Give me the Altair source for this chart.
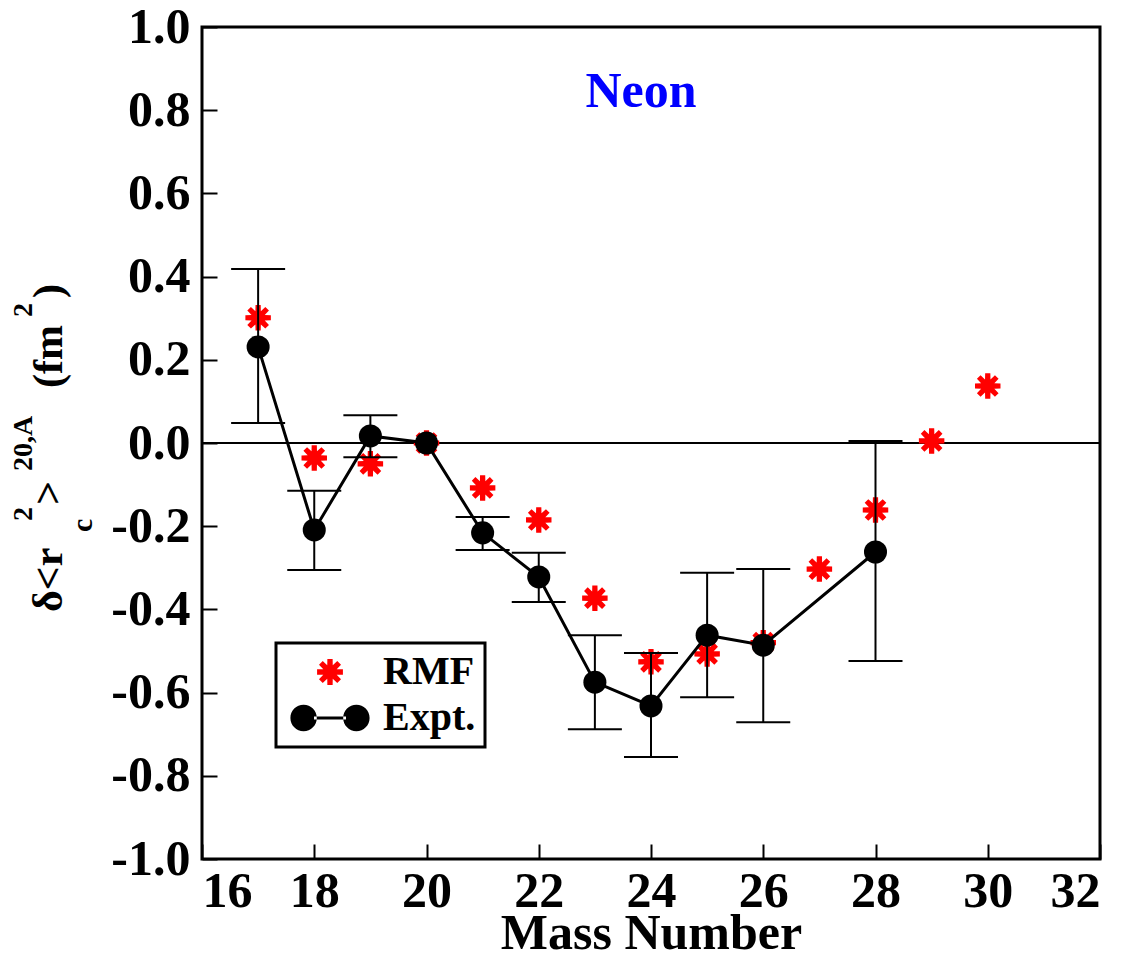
import math
import altair as alt
import pandas as pd

FONT = "Liberation Serif"

# ---- data ----
mass_rmf = [17, 18, 19, 20, 21, 22, 23, 24, 25, 26, 27, 28, 29, 30]
rmf_val = [0.301, -0.036, -0.050, 0.0, -0.108, -0.185, -0.373, -0.526, -0.507,
           -0.480, -0.303, -0.161, 0.005, 0.137]

mass_exp = [17, 18, 19, 20, 21, 22, 23, 24, 25, 26, 28]
exp_val = [0.231, -0.209, 0.017, 0.0, -0.216, -0.322, -0.575, -0.632, -0.462,
           -0.486, -0.262]

mass_err = [17, 18, 19, 21, 22, 23, 24, 25, 26, 28]
err_hi = [0.418, -0.115, 0.067, -0.178, -0.264, -0.462, -0.505, -0.312, -0.303, 0.005]
err_lo = [0.048, -0.305, -0.034, -0.257, -0.382, -0.688, -0.755, -0.611, -0.671, -0.524]

series_names = ["RMF", "Expt."]
x_ticks = [16, 18, 20, 22, 24, 26, 28, 30, 32]
y_ticks = [-1.0, -0.8, -0.6, -0.4, -0.2, 0.0, 0.2, 0.4, 0.6, 0.8, 1.0]

rmf_df = pd.DataFrame({"A": mass_rmf, "v": rmf_val})
exp_df = pd.DataFrame({"A": mass_exp, "v": exp_val})
err_df = pd.DataFrame({"A": mass_err, "hi": err_hi, "lo": err_lo})
zero_df = pd.DataFrame({"z": [0.0]})
leg_df = pd.DataFrame({"series": series_names})

W, H = 898, 832


def asterisk(r):
    pts = []
    n = 8
    for i in range(n):
        a = 2 * math.pi * i / n
        for da, rad in [(-0.2, 1.0), (0.2, 1.0), (math.pi / n, 0.55)]:
            pts.append((rad * r * math.cos(a + da), rad * r * math.sin(a + da)))
    return "M" + " L".join(f"{x:.3f},{y:.3f}" for x, y in pts) + " Z"


def circle_path(cx, r):
    return (f"M{cx - r:.3f},0 A{r:.3f},{r:.3f} 0 1,0 {cx + r:.3f},0 "
            f"A{r:.3f},{r:.3f} 0 1,0 {cx - r:.3f},0 Z")


legend_expt = (circle_path(-0.66, 0.33) + " M-0.4,-0.04 L0.4,-0.04 L0.4,0.04 L-0.4,0.04 Z "
               + circle_path(0.66, 0.33))
legend_rmf = asterisk(0.33)
star_path = asterisk(1.0)

xs = alt.Scale(domain=[16, 32], nice=False, zero=False)
ys = alt.Scale(domain=[-1, 1], nice=False, zero=False)

lab = dict(labelFont=FONT, labelFontSize=50, labelFontWeight="bold", labelColor="black")

x_main = alt.Axis(values=x_ticks, format="d", title="Mass Number", titleFont=FONT,
                  titleFontSize=50, titleFontWeight="bold", titleColor="black",
                  titlePadding=-8, ticks=False, domain=False, grid=False,
                  labelPadding=7, labelOverlap=False, **lab)
y_main = alt.Axis(values=y_ticks, title=None, ticks=False, domain=False, grid=False,
                  labelPadding=12, labelOverlap=False,
                  labelExpr="(datum.value < -0.001 ? '-' : '') + format(abs(datum.value), '.1f')",
                  **lab)
x_in = alt.Axis(orient="top", offset=-H, values=x_ticks, labels=False, ticks=True,
                tickSize=15, tickWidth=2, tickColor="black", domain=False, grid=False, title=None)
y_in = alt.Axis(orient="right", offset=-W, values=y_ticks, labels=False, ticks=True,
                tickSize=15, tickWidth=2, tickColor="black", domain=False, grid=False, title=None)

zero = alt.Chart(zero_df).mark_rule(color="black", strokeWidth=2).encode(
    y=alt.Y("z:Q", scale=ys, axis=None))

rmf = alt.Chart(rmf_df).mark_point(shape=star_path, filled=True, color="#ff0000",
                                   size=676, opacity=1, strokeWidth=0).encode(
    x=alt.X("A:Q", scale=xs, axis=None), y=alt.Y("v:Q", scale=ys, axis=None))

bars = alt.Chart(err_df).mark_rule(color="black", strokeWidth=2).encode(
    x=alt.X("A:Q", scale=xs, axis=x_in), y=alt.Y("lo:Q", scale=ys, axis=y_in), y2="hi:Q")
cap_lo = alt.Chart(err_df).mark_tick(orient="horizontal", size=54, thickness=2,
                                     color="black", opacity=1).encode(
    x=alt.X("A:Q", scale=xs, axis=None), y=alt.Y("lo:Q", scale=ys, axis=None))
cap_hi = alt.Chart(err_df).mark_tick(orient="horizontal", size=54, thickness=2,
                                     color="black", opacity=1).encode(
    x=alt.X("A:Q", scale=xs, axis=None), y=alt.Y("hi:Q", scale=ys, axis=None))

line = alt.Chart(exp_df).mark_line(color="black", strokeWidth=3).encode(
    x=alt.X("A:Q", scale=xs, axis=x_main), y=alt.Y("v:Q", scale=ys, axis=y_main))
dots = alt.Chart(exp_df).mark_circle(color="black", size=531, opacity=1).encode(
    x=alt.X("A:Q", scale=xs, axis=None), y=alt.Y("v:Q", scale=ys, axis=None))

leg = alt.Legend(title=None, orient="none", legendX=74, legendY=616, direction="vertical",
                 symbolSize=6400, symbolStrokeWidth=0, symbolOpacity=1, clipHeight=40,
                 rowPadding=6, padding=9, symbolOffset=5, labelOffset=13, labelFont=FONT,
                 labelFontSize=40, labelFontWeight="bold", labelColor="black",
                 strokeColor="black", fillColor="white")
legend_layer = alt.Chart(leg_df).mark_point(filled=True, opacity=0).encode(
    shape=alt.Shape("series:N", scale=alt.Scale(domain=series_names,
                                                range=[legend_rmf, legend_expt]), legend=leg),
    color=alt.Color("series:N", scale=alt.Scale(domain=series_names,
                                                range=["#ff0000", "#000000"]), legend=leg))

one = alt.Data(values=[{"k": 0}])


def txt(text, x, y, size, angle=270, color="black", align="left"):
    return alt.Chart(one).mark_text(text=text, font=FONT, fontSize=size, fontWeight="bold",
                                    angle=angle, align=align, baseline="alphabetic",
                                    color=color).encode(x=alt.value(x), y=alt.value(y))


title_parts = [
    txt("δ<r", -140, 585, 42),
    txt("c", -110, 505, 30),
    txt("2", -170, 494, 28),
    txt(">", -140, 478, 42),
    txt("20,A", -170, 444, 28),
    txt("(fm", -140, 361, 42),
    txt("2", -170, 290, 28),
    txt(")", -140, 271, 42),
]
neon = txt("Neon", 439, 80, 50, angle=0, color="#0000ff", align="center")

chart = alt.layer(zero, rmf, bars, cap_lo, cap_hi, line, dots, legend_layer, neon,
                  *title_parts).resolve_axis(x="independent", y="independent").properties(
    width=W, height=H,
    autosize=alt.AutoSizeParams(type="none"),
    padding={"left": 202, "top": 27, "right": 1133 - 202 - W, "bottom": 962 - 27 - H},
    background="white",
).configure_view(stroke="black", strokeWidth=3).configure_legend(strokeWidth=3)

chart.save("out.html", embed_options={"renderer": "svg", "actions": False})
